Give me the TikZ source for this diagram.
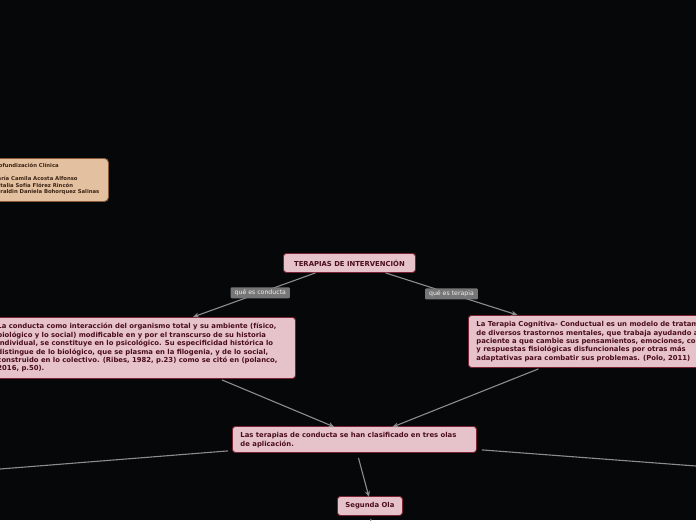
\documentclass[tikz,border=0pt]{standalone}
\usepackage{fontspec}
\setmainfont{DejaVu Sans}
\usetikzlibrary{arrows.meta}
\definecolor{bg}{HTML}{060709}
\definecolor{pinkfill}{HTML}{E6C3CA}
\definecolor{pinkborder}{HTML}{7B2334}
\definecolor{pinktext}{HTML}{4A0D1C}
\definecolor{tanfill}{HTML}{E3C09F}
\definecolor{tanborder}{HTML}{8A5A3A}
\definecolor{tantext}{HTML}{3A2414}
\definecolor{linegray}{HTML}{8C8C8C}
\definecolor{labelfill}{HTML}{767676}
\tikzset{
  topic/.style={draw=pinkborder, line width=0.9pt, fill=pinkfill, rounded corners=3pt,
    text=pinktext, font=\fontsize{6.85}{8.4}\selectfont\bfseries, align=left, inner sep=0pt},
  infobox/.style={draw=tanborder, line width=0.9pt, fill=tanfill, rounded corners=4pt,
    text=tantext, font=\fontsize{5.3}{6.5}\selectfont\bfseries, align=left, inner sep=0pt},
  conn/.style={draw=linegray, line width=1.1pt},
  arr/.style={conn, -{Stealth[length=6pt,width=5pt]}},
  lbl/.style={fill=labelfill, text=white!90!gray, font=\fontsize{6.2}{6.5}\selectfont,
    inner xsep=4pt, inner ysep=0pt, minimum height=11pt, rounded corners=1pt}
}
\begin{document}
\begin{tikzpicture}[x=1pt,y=-1pt]
\fill[bg] (0,0) rectangle (696,520);
\useasboundingbox (0,0) rectangle (696,520);
\clip (0,0) rectangle (696,520);

% info box (top left)
\node[infobox, minimum width=128pt, minimum height=43pt, anchor=north west] (info) at (-20,158) {};
\node[infobox, draw=none, fill=none, anchor=north west] (infotext) at (-8,163)
  {Profundización Clínica\\[6.5pt] María Camila Acosta Alfonso\\ Natalia Sofía Flórez Rincón\\ Geraldin Daniela Bohorquez Salinas};

% main topic
\node[topic, minimum width=132pt, minimum height=19pt, align=center, anchor=north west] (main) at (283,253)
  {TERAPIAS DE INTERVENCIÓN};

% left box
\node[topic, minimum width=307pt, minimum height=61pt, anchor=north west] (left) at (-12,317) {};
\node[topic, draw=none, fill=none, anchor=north west] (lefttext) at (-3,323)
  {La conducta como interacción del organismo total y su ambiente (físico,\\
   biológico y lo social) modificable en y por el transcurso de su historia\\
   individual, se constituye en lo psicológico. Su especificidad histórica lo\\
   distingue de lo biológico, que se plasma en la filogenia, y de lo social,\\
   construido en lo colectivo. (Ribes, 1982, p.23) como se citó en (polanco,\\
   2016, p.50).};

% right box
\node[topic, minimum width=270pt, minimum height=52pt, anchor=north west] (right) at (468,315) {};
\node[topic, draw=none, fill=none, anchor=north west] (righttext) at (476,321)
  {La Terapia Cognitiva- Conductual es un modelo de tratamiento\\
   de diversos trastornos mentales, que trabaja ayudando al\\
   paciente a que cambie sus pensamientos, emociones, conductas\\
   y respuestas fisiológicas disfuncionales por otras más\\
   adaptativas para combatir sus problemas. (Polo, 2011)};

% middle box
\node[topic, minimum width=244pt, minimum height=26pt, anchor=north west] (mid) at (232,426) {};
\node[topic, draw=none, fill=none, anchor=north west] (midtext) at (240,432)
  {Las terapias de conducta se han clasificado en tres olas\\ de aplicación.};

% segunda ola
\node[topic, minimum width=65pt, minimum height=19pt, align=center, anchor=north west] (segunda) at (337,496)
  {Segunda Ola};

% off-canvas ends
\coordinate (offL) at (0,469);
\coordinate (offR) at (696,466);
\coordinate (offB) at (370,525);

% connectors
\draw[arr] ([xshift=-34pt]main.south) -- node[lbl, pos=0.45] (lc) {qué es conducta} ([xshift=51pt]left.north);
\draw[arr] ([xshift=36pt]main.south) -- node[lbl, pos=0.5] (lt) {qué es terapia} ([xshift=-86pt]right.north);
\draw[arr] ([xshift=80pt,yshift=-1pt]left.south) -- ([xshift=-20pt,yshift=-1pt]mid.north);
\draw[arr] ([xshift=-65pt,yshift=-1pt]right.south) -- ([xshift=38pt,yshift=-1pt]mid.north);
\draw[arr] ([xshift=4pt,yshift=-5pt]mid.south) -- ([xshift=-1pt,yshift=-1pt]segunda.north);
\draw[conn] ([xshift=-4pt,yshift=2pt]mid.south west) -- (offL);
\draw[conn] ([xshift=5pt,yshift=3pt]mid.south east) -- (offR);
\draw[conn] ([xshift=1pt,yshift=-3pt]segunda.south) -- (offB);
\end{tikzpicture}
\end{document}
